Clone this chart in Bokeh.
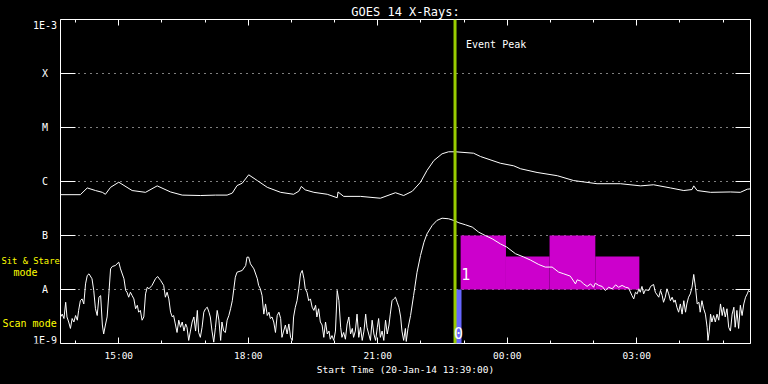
from bokeh.plotting import figure
from bokeh.layouts import row
from bokeh.models import (FixedTicker, LinearAxis, LogAxis, Label, Span, CustomJSTickFormatter,
                          GlobalInlineStyleSheet)
from bokeh.core.properties import value
from bokeh.embed import file_html
from bokeh.resources import INLINE

# ---------------- data (hours since 20-Jan-2014 00:00, flux in W/m^2) ----------------
# GOES 14 long channel (1-8 A)
long_t = [13.65, 14.11, 14.27, 14.46, 14.62, 14.69, 14.81, 15.00, 15.31, 15.62,
          15.89, 16.20, 16.47, 16.89, 17.24, 17.51, 17.63, 17.74, 17.86, 18.01,
          18.21, 18.44, 18.75, 19.05, 19.17, 19.23, 19.32, 19.52, 19.83, 20.06,
          20.08, 20.21, 20.60, 21.06, 21.41, 21.60, 21.80, 21.99, 22.14, 22.30,
          22.49, 22.64, 22.80, 23.22, 23.38, 23.84, 24.15, 24.31, 24.69, 25.16,
          25.54, 26.08, 26.62, 27.09, 27.39, 27.78, 28.09, 28.28, 28.32, 28.40,
          28.71, 29.17, 29.40, 29.56, 29.63]
long_flux = [5.7e-7, 5.7e-7, 7.6e-7, 6.8e-7, 6.3e-7, 5.8e-7, 7.8e-7, 9.7e-7, 6.8e-7, 6.3e-7,
             8.3e-7, 6.4e-7, 5.6e-7, 5.5e-7, 5.6e-7, 5.6e-7, 6.1e-7, 8.4e-7, 9.3e-7, 1.33e-6,
             1.04e-6, 7.8e-7, 6.3e-7, 5.8e-7, 6.6e-7, 8.1e-7, 7.0e-7, 6.3e-7, 5.8e-7, 5.0e-7,
             6.4e-7, 5.3e-7, 5.3e-7, 4.9e-7, 6.2e-7, 5.5e-7, 6.6e-7, 9.7e-7, 1.6e-6, 2.45e-6,
             3.26e-6, 3.55e-6, 3.55e-6, 3.34e-6, 2.9e-6, 2.18e-6, 1.95e-6, 1.72e-6, 1.47e-6, 1.28e-6,
             1.04e-6, 9.1e-7, 9.1e-7, 8.3e-7, 8.7e-7, 7.6e-7, 6.8e-7, 7.1e-7, 8.3e-7, 6.8e-7,
             6.3e-7, 6.4e-7, 6.3e-7, 7.2e-7, 7.3e-7]

# GOES 14 short channel (0.5-4 A)
short_t = [
    13.65, 13.69, 13.73, 13.77, 13.80, 13.84, 13.88, 13.92, 13.96, 14.00,
    14.04, 14.07, 14.11, 14.15, 14.19, 14.23, 14.27, 14.31, 14.38, 14.42,
    14.46, 14.50, 14.54, 14.58, 14.62, 14.65, 14.69, 14.73, 14.77, 14.81,
    14.85, 14.92, 15.00, 15.04, 15.12, 15.16, 15.19, 15.23, 15.27, 15.31,
    15.35, 15.39, 15.43, 15.46, 15.50, 15.54, 15.58, 15.62, 15.66, 15.70,
    15.77, 15.85, 15.90, 15.97, 16.04, 16.08, 16.12, 16.16, 16.20, 16.24,
    16.27, 16.31, 16.35, 16.39, 16.43, 16.47, 16.51, 16.55, 16.58, 16.62,
    16.66, 16.70, 16.74, 16.78, 16.82, 16.85, 16.89, 16.93, 16.97, 17.01,
    17.05, 17.09, 17.12, 17.16, 17.20, 17.24, 17.28, 17.32, 17.36, 17.39,
    17.43, 17.47, 17.51, 17.55, 17.59,
    17.63, 17.70, 17.74, 17.86, 17.94, 17.97, 18.01, 18.05, 18.13, 18.21,
    18.24, 18.28, 18.32, 18.36, 18.40, 18.44, 18.48, 18.51, 18.55, 18.59,
    18.63, 18.67, 18.71, 18.75, 18.78, 18.82, 18.86, 18.90, 18.94, 18.98,
    19.02, 19.05, 19.09, 19.13, 19.17, 19.21, 19.25, 19.29, 19.32, 19.36,
    19.40, 19.44, 19.48, 19.52, 19.56, 19.59, 19.63, 19.67, 19.71, 19.75,
    19.79, 19.83, 19.87, 19.90, 19.94, 19.98, 20.02, 20.06, 20.10, 20.14,
    20.17, 20.21, 20.25, 20.29, 20.33, 20.37, 20.41, 20.44, 20.48, 20.52,
    20.56, 20.60, 20.64, 20.68, 20.72, 20.75, 20.79, 20.83, 20.87, 20.91,
    20.95, 20.99, 21.02, 21.06, 21.10, 21.14, 21.18, 21.22, 21.26, 21.29,
    21.33, 21.37, 21.41, 21.45, 21.49, 21.53, 21.56, 21.60,
    21.64, 21.66, 21.70, 21.76, 21.83, 21.91, 21.99, 22.07, 22.14, 22.26,
    22.37, 22.49, 22.64, 22.76, 22.88, 23.03, 23.19, 23.34, 23.49, 23.65,
    23.84, 23.99, 24.19, 24.38, 24.54, 24.73, 24.88, 25.04, 25.19, 25.31,
    25.46,
    25.58, 25.62, 25.70, 25.77, 25.85, 25.93, 26.00, 26.04, 26.12, 26.20,
    26.27, 26.35, 26.43, 26.51, 26.58, 26.66, 26.74, 26.81, 26.89, 26.93,
    26.97, 27.01, 27.05, 27.08, 27.12, 27.16, 27.20, 27.28, 27.32, 27.39,
    27.43, 27.51, 27.55, 27.59, 27.62, 27.66, 27.70, 27.74, 27.78, 27.82,
    27.86, 27.89, 27.93, 27.97, 28.01, 28.05, 28.09, 28.13, 28.16, 28.20,
    28.24, 28.28, 28.32, 28.36, 28.40, 28.44, 28.47, 28.51, 28.55, 28.59,
    28.63, 28.65, 28.68, 28.71, 28.74, 28.78, 28.82, 28.86, 28.90, 28.94,
    28.98, 29.01, 29.05, 29.09, 29.13, 29.17, 29.21, 29.25, 29.28, 29.32,
    29.36, 29.40, 29.44, 29.48, 29.52, 29.56, 29.59, 29.63,
]
short_flux = [
    3.1e-9, 3.5e-9, 2.9e-9, 5.8e-9, 3.1e-9, 2.5e-9, 1.9e-9, 2.9e-9, 2.5e-9, 3.3e-9,
    2.7e-9, 4.1e-9, 6.2e-9, 6.7e-9, 5.4e-9, 1.27e-8, 1.82e-8, 1.95e-8, 1.58e-8, 9.6e-9,
    4.4e-9, 3.3e-9, 7.2e-9, 7.7e-9, 2.2e-9, 1.5e-9, 2.2e-9, 3.1e-9, 8.3e-9, 2.41e-8,
    2.67e-8, 2.78e-8, 3.21e-8, 2.41e-8, 1.58e-8, 9.6e-9, 8.9e-9, 7.2e-9, 8.9e-9, 7.7e-9,
    6.7e-9, 4.4e-9, 5.1e-9, 3.8e-9, 4.1e-9, 2.7e-9, 3.1e-9, 8.3e-9, 1.10e-8, 1.03e-8,
    1.19e-8, 1.58e-8, 1.74e-8, 1.47e-8, 1.19e-8, 7.2e-9, 8.9e-9, 6.7e-9, 3.8e-9, 3.1e-9,
    3.3e-9, 2.3e-9, 1.6e-9, 2.7e-9, 2.0e-9, 2.5e-9, 1.7e-9, 2.3e-9, 2.0e-9, 1.14e-9,
    1.7e-9, 2.5e-9, 3.1e-9, 1.7e-9, 4.1e-9, 1.6e-9, 1.3e-9, 2.0e-9, 3.8e-9, 4.4e-9,
    4.7e-9, 3.8e-9, 3.1e-9, 1.7e-9, 1.06e-9, 2.0e-9, 4.1e-9, 2.7e-9, 1.14e-9, 2.5e-9,
    1.7e-9, 1.6e-9, 2.7e-9, 3.3e-9, 4.4e-9,
    6.2e-9, 1.69e-8, 2.09e-8, 2.25e-8, 2.78e-8, 3.97e-8, 3.97e-8, 2.99e-8, 2.41e-8, 1.58e-8,
    1.19e-8, 1.03e-8, 7.7e-9, 3.5e-9, 5.4e-9, 3.3e-9, 3.8e-9, 2.9e-9, 3.1e-9, 2.5e-9,
    1.6e-9, 3.3e-9, 3.8e-9, 2.9e-9, 1.3e-9, 1.7e-9, 2.2e-9, 1.5e-9, 2.3e-9, 1.3e-9,
    1.14e-9, 3.1e-9, 4.7e-9, 6.2e-9, 1.03e-8, 1.95e-8, 2.25e-8, 1.58e-8, 1.03e-8, 8.9e-9,
    6.2e-9, 6.7e-9, 4.7e-9, 4.1e-9, 5.1e-9, 3.1e-9, 4.4e-9, 2.5e-9, 2.2e-9, 1.3e-9,
    2.5e-9, 1.5e-9, 1.7e-9, 1.2e-9, 1.4e-9, 1.14e-9, 1.7e-9, 9.6e-9, 6.2e-9, 2.0e-9,
    1.3e-9, 1.6e-9, 1.2e-9, 2.3e-9, 3.1e-9, 1.5e-9, 1.9e-9, 1.3e-9, 1.7e-9, 3.5e-9,
    1.3e-9, 2.0e-9, 1.14e-9, 1.7e-9, 3.5e-9, 2.0e-9, 1.5e-9, 1.14e-9, 2.7e-9, 1.5e-9,
    1.14e-9, 2.0e-9, 2.9e-9, 1.3e-9, 1.7e-9, 1.14e-9, 2.7e-9, 1.5e-9, 2.2e-9, 3.5e-9,
    6.2e-9, 6.7e-9, 7.2e-9, 5.8e-9, 4.7e-9, 3.1e-9, 1.7e-9, 1.14e-9,
    1.9e-9, 1.09e-9, 1.9e-9, 3.3e-9, 7.7e-9, 2.09e-8, 4.26e-8, 7.5e-8, 1.07e-7, 1.53e-7,
    1.90e-7, 2.09e-7, 2.04e-7, 1.90e-7, 1.72e-7, 1.58e-7, 1.43e-7, 1.15e-7, 1.0e-7, 8.7e-8,
    7.0e-8, 6.1e-8, 4.6e-8, 4.0e-8, 3.5e-8, 2.9e-8, 2.6e-8, 2.6e-8, 2.1e-8, 1.95e-8,
    1.77e-8,
    1.27e-8, 1.51e-8, 1.43e-8, 1.27e-8, 1.14e-8, 1.27e-8, 1.10e-8, 1.31e-8, 1.19e-8, 1.14e-8,
    9.6e-9, 1.10e-8, 1.03e-8, 1.22e-8, 1.10e-8, 1.19e-8, 1.10e-8, 1.07e-8, 7.7e-9, 6.7e-9,
    8.9e-9, 8.3e-9, 1.03e-8, 8.9e-9, 1.14e-8, 8.3e-9, 9.9e-9, 9.6e-9, 1.14e-8, 1.24e-8,
    8.9e-9, 7.2e-9, 9.6e-9, 7.7e-9, 5.8e-9, 7.2e-9, 1.03e-8, 8.3e-9, 6.2e-9, 7.2e-9,
    5.8e-9, 6.4e-9, 4.7e-9, 3.8e-9, 5.4e-9, 3.5e-9, 6.2e-9, 3.8e-9, 5.4e-9, 7.2e-9,
    8.3e-9, 1.10e-8, 1.90e-8, 1.10e-8, 5.4e-9, 5.8e-9, 3.8e-9, 6.2e-9, 4.4e-9, 3.5e-9,
    2.0e-9, 1.14e-9, 1.7e-9, 3.5e-9, 2.5e-9, 3.3e-9, 2.5e-9, 3.5e-9, 2.7e-9, 5.4e-9,
    3.3e-9, 4.7e-9, 3.1e-9, 4.4e-9, 2.0e-9, 1.7e-9, 3.5e-9, 4.7e-9, 2.0e-9, 4.1e-9,
    1.9e-9, 5.1e-9, 3.3e-9, 5.4e-9, 7.2e-9, 8.3e-9, 9.6e-9, 8.9e-9,
]

# Sit & Stare observation boxes (magenta) and scan-mode box (blue)
stare_start = [22.92, 23.97, 24.98, 26.04]
stare_end = [23.97, 24.98, 26.04, 27.06]
stare_top = [1.0e-7, 4.1e-8, 1.0e-7, 4.1e-8]
stare_bottom = [1.0e-8, 1.0e-8, 1.0e-8, 1.0e-8]
scan_start = [22.80]
scan_end = [22.94]
scan_top = [1.0e-8]
scan_bottom = [1.0e-9]

peak_time = 22.79

# axes
x_start, x_end = 13.65, 29.635
major_hours = [15, 18, 21, 24, 27]
major_labels = ["15:00", "18:00", "21:00", "00:00", "03:00"]
minor_hours = [14, 15, 16, 17, 18, 19, 20, 21, 22, 23, 24, 25, 26, 27, 28, 29]
level_values = [1e-9, 1e-8, 1e-7, 1e-6, 1e-5, 1e-4, 1e-3]
level_labels = ["1E-9", "A", "B", "C", "M", "X", "1E-3"]
grid_levels = [1e-8, 1e-7, 1e-6, 1e-5, 1e-4]

FONT = "DejaVu Sans Mono"
TOP, BOTTOM, LEFT_W = 19, 41, 60
BLACK = {"background-color": "black"}

# ---------------- left label strip (same vertical scale) ----------------
lf = figure(width=LEFT_W, height=384, output_backend="svg", toolbar_location=None,
            x_range=(0, LEFT_W), y_range=(level_values[0], level_values[-1]),
            y_axis_type="log", x_axis_location=None, y_axis_location=None,
            background_fill_color="black", border_fill_color="black",
            outline_line_color=None, styles=BLACK,
            min_border_left=0, min_border_right=0, min_border_top=TOP, min_border_bottom=BOTTOM)
lf.grid.visible = False

mid_v = level_values[1:-1]
mid_s = level_labels[1:-1]
lf.text(x=[44.5] * len(mid_v), y=mid_v, text=mid_s, text_color="white",
        text_font=value(FONT), text_font_size="10px",
        text_align="center", text_baseline="middle")
lf.text(x=[44.5], y=[level_values[-1]], text=[level_labels[-1]], text_color="white",
        text_font=value(FONT), text_font_size="10px",
        text_align="center", text_baseline="top")
lf.text(x=[44.5], y=[level_values[0]], text=[level_labels[0]], text_color="white",
        text_font=value(FONT), text_font_size="10px",
        text_align="center", text_baseline="bottom", y_offset=2)

mode_text = ["Sit & Stare", "mode", "Scan mode"]
mode_x = [1, 13, 2]
mode_y = [2.78e-8, 1.64e-8, 1.82e-9]
mode_size = ["8.8px", "10px", "10px"]
lf.text(x=mode_x, y=mode_y, text=mode_text, text_color="yellow",
        text_font=value(FONT), text_font_size=mode_size,
        text_align="left", text_baseline="bottom")

# ---------------- main plot ----------------
p = figure(width=768 - LEFT_W, height=384, output_backend="svg", toolbar_location=None,
           x_range=(x_start, x_end), y_range=(level_values[0], level_values[-1]),
           y_axis_type="log", styles=BLACK,
           background_fill_color="black", border_fill_color="black",
           outline_line_color="white", outline_line_width=1,
           min_border_left=0, min_border_right=18, min_border_top=TOP, min_border_bottom=BOTTOM)

p.title.text = "GOES 14 X-Rays:"
p.title.align = "center"
p.title.text_color = "white"
p.title.text_font = FONT
p.title.text_font_size = "12px"
p.title.text_font_style = "normal"
p.title.standoff = 2

xt = FixedTicker(ticks=major_hours, minor_ticks=minor_hours)
yt = FixedTicker(ticks=level_values, minor_ticks=[])
blank = CustomJSTickFormatter(code="return ''")

xa = p.xaxis[0]
xa.ticker = xt
xa.major_label_overrides = {h: s for h, s in zip(major_hours, major_labels)}
xa.axis_line_color = None
xa.major_tick_line_color = "white"
xa.minor_tick_line_color = "white"
xa.major_tick_in = 6
xa.major_tick_out = 0
xa.minor_tick_in = 3
xa.minor_tick_out = 0
xa.major_label_text_color = "white"
xa.major_label_text_font = FONT
xa.major_label_text_font_size = "9.5px"
xa.major_label_standoff = 6
xa.axis_label = "Start Time (20-Jan-14 13:39:00)"
xa.axis_label_text_color = "white"
xa.axis_label_text_font = FONT
xa.axis_label_text_font_size = "9.5px"
xa.axis_label_text_font_style = "normal"
xa.axis_label_standoff = 0

ta = LinearAxis(ticker=xt, formatter=blank, axis_line_color=None,
                major_tick_line_color="white", minor_tick_line_color="white",
                major_tick_in=6, major_tick_out=0, minor_tick_in=3, minor_tick_out=0,
                major_label_standoff=0)
p.add_layout(ta, "above")

ya = p.yaxis[0]
ya.ticker = yt
ya.formatter = blank
ya.axis_line_color = None
ya.major_tick_line_color = "white"
ya.major_tick_in = 15
ya.major_tick_out = 0
ya.minor_tick_line_color = None
ya.major_label_standoff = 0

ra = LogAxis(ticker=yt, formatter=blank, axis_line_color=None, major_tick_line_color="white",
             major_tick_in=15, major_tick_out=0, minor_tick_line_color=None,
             major_label_standoff=0)
p.add_layout(ra, "right")

p.xgrid.visible = False
p.ygrid.ticker = FixedTicker(ticks=grid_levels)
p.ygrid.grid_line_color = "white"
p.ygrid.grid_line_dash = "1 5"
p.ygrid.grid_line_width = 1

p.quad(left=stare_start, right=stare_end, bottom=stare_bottom, top=stare_top,
       fill_color="#cc00cc", line_color=None)
p.quad(left=scan_start, right=scan_end, bottom=scan_bottom, top=scan_top,
       fill_color="#6666ff", line_color=None)

p.line(long_t, long_flux, line_color="white", line_width=1)
p.line(short_t, short_flux, line_color="white", line_width=1)

p.add_layout(Span(location=peak_time, dimension="height", line_color="#99cc00", line_width=3))


def lab(**kw):
    base = dict(text_color="white", text_font=FONT, text_font_size="10px")
    base.update(kw)
    p.add_layout(Label(**base))


lab(x=peak_time, x_units="data", x_offset=11, y=293.5, y_units="screen",
    text="Event Peak", text_align="left", text_baseline="bottom")
lab(x=stare_start[0], x_units="data", x_offset=5, y=1.5e-8, y_units="data",
    text="1", text_font_size="15px", text_align="center", text_baseline="bottom")
lab(x=(scan_start[0] + scan_end[0]) / 2, x_units="data", y=1.2e-9, y_units="data",
    text="0", text_font_size="15px", text_align="center", text_baseline="bottom")

page_css = GlobalInlineStyleSheet(css="html, body { background-color: #000000; }")
layout = row(lf, p, spacing=0, styles=BLACK, stylesheets=[page_css])
open("out.html", "w").write(file_html(layout, INLINE))
